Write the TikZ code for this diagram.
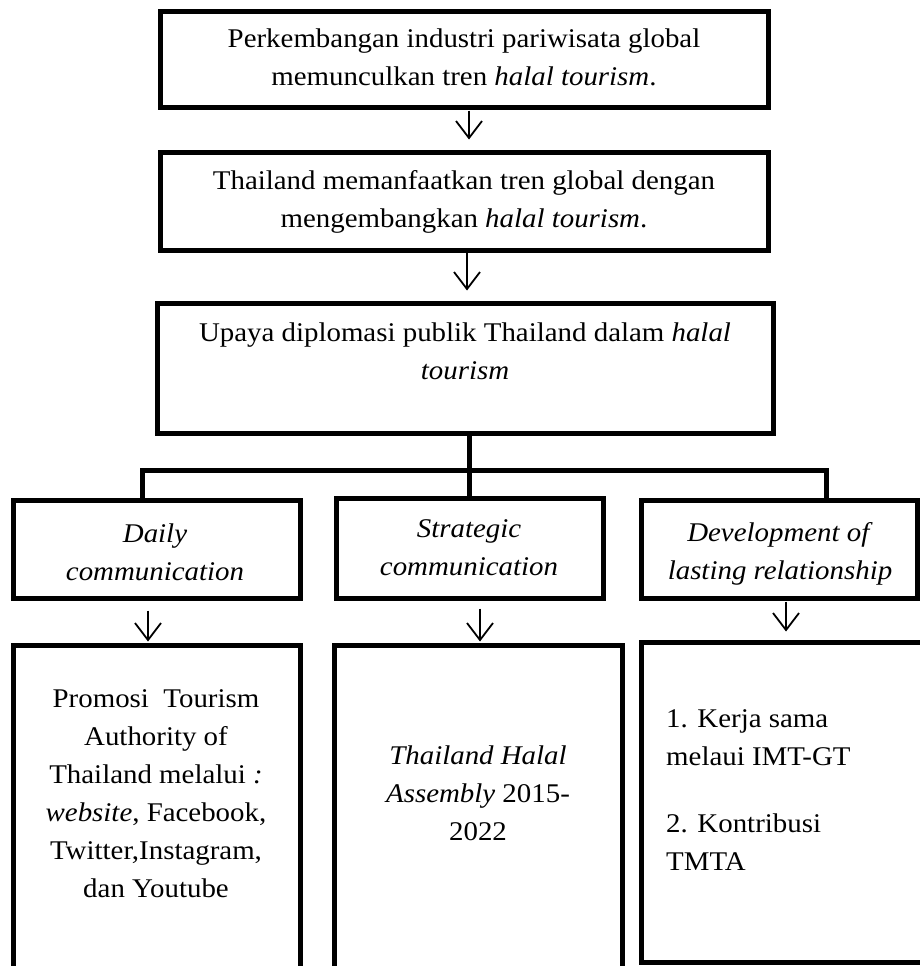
\documentclass[tikz,border=0pt]{standalone}
\usepackage{fontspec}
\setmainfont{Liberation Serif}[FakeStretch=1.07]
\usetikzlibrary{arrows.meta,calc}
\begin{document}
\begin{tikzpicture}[x=1pt,y=-1pt,
  box/.style={draw, line width=5pt, rectangle, inner sep=0pt, line join=miter},
  txt/.style={inner sep=0pt, font=\fontsize{27}{38}\selectfont, anchor=base, align=center},
  arr/.style={line width=1.8pt, -{Straight Barb[length=17pt,width=26pt]}},
  tree/.style={line width=5pt, line join=miter}]
\useasboundingbox (0,0) rectangle (920,966);
% boxes
\node[box, minimum width=608pt, minimum height=95pt] (b1) at (464,59.5) {};
\node[box, minimum width=608pt, minimum height=98pt] (b2) at (464,201) {};
\node[box, minimum width=616pt, minimum height=130pt] (b3) at (465,368) {};
\node[box, minimum width=287pt, minimum height=98pt] (l2a) at (156.5,549) {};
\node[box, minimum width=267pt, minimum height=100pt] (l2b) at (469.5,548) {};
\node[box, minimum width=276pt, minimum height=98pt] (l2c) at (779,549) {};
\node[box, minimum width=287pt, minimum height=355pt] (l3a) at (156.5,822.5) {};
\node[box, minimum width=288pt, minimum height=355pt] (l3b) at (478,822.5) {};
\node[box, minimum width=284pt, minimum height=320pt] (l3c) at (783,802) {};
% texts (anchor base = baseline of the last line)
\node[txt] (t1) at (464,85) {Perkembangan industri pariwisata global\\memunculkan tren \textit{halal tourism}.};
\node[txt] (t2) at (464,227) {Thailand memanfaatkan tren global dengan\\mengembangkan \textit{halal tourism}.};
\node[txt] (t3) at (465,379) {Upaya diplomasi publik Thailand dalam \textit{halal}\\\textit{tourism}};
\node[txt] (t4) at (155,580) {\textit{Daily}\\\textit{communication}};
\node[txt] (t5) at (469,575) {\textit{Strategic}\\\textit{communication}};
\node[txt] (t6) at (780,579) {\textit{Development of}\\\textit{lasting relationship}};
\node[txt] (t7) at (156,897) {Promosi\ \ Tourism\\Authority of\\Thailand melalui \textit{:}\\\textit{website}, Facebook,\\Twitter,Instagram,\\dan Youtube};
\node[txt] (t8) at (478,840) {\textit{Thailand Halal}\\\textit{Assembly} 2015-\\2022};
\node[txt, anchor=base west, align=left] (t9) at (666,870) {1. Kerja sama\\melaui IMT-GT\\[29pt]2. Kontribusi\\TMTA};
% connectors (yshift is in canvas direction: negative = downwards)
\draw[arr] ([xshift=5pt,yshift=-1pt]b1.south) -- ([xshift=5pt,yshift=10pt]b1.south |- b2.north);
\draw[arr] ([xshift=3pt]b2.south) -- ([xshift=3pt,yshift=10pt]b2.south |- b3.north);
\coordinate (barL) at (142,470);
\coordinate (barR) at (826,470);
\draw[tree] (barL |- l2a.north) -- (barL) -- (barR) -- (barR |- l2c.north);
\draw[tree] (b3.south -| l2b.north) -- (l2b.north);
\draw[arr] ([xshift=-8.5pt,yshift=-10pt]l2a.south) -- ([xshift=-8.5pt,yshift=1pt]l2a.south |- l3a.north);
\draw[arr] ([xshift=10.5pt,yshift=-8pt]l2b.south) -- ([xshift=10.5pt,yshift=1pt]l2b.south |- l3b.north);
\draw[arr] ([xshift=7pt,yshift=-1pt]l2c.south) -- ([xshift=7pt,yshift=8pt]l2c.south |- l3c.north);
\end{tikzpicture}
\end{document}
